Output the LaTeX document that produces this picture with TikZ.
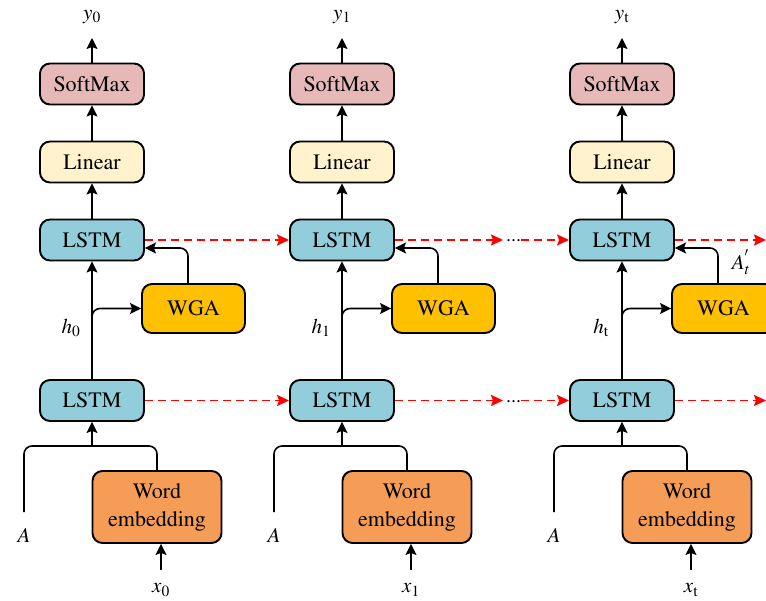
\documentclass[tikz,border=0pt]{standalone}
\usepackage[T1]{fontenc}
\usepackage{mathptmx}
\usetikzlibrary{arrows.meta}
\definecolor{smfill}{HTML}{E6B9B8}
\definecolor{linfill}{HTML}{FFF2CC}
\definecolor{lstmfill}{HTML}{92CDDC}
\definecolor{wgafill}{HTML}{FFC000}
\definecolor{wefill}{HTML}{F59D56}
\begin{document}
\begin{tikzpicture}[x=1pt,y=-1pt,
  box/.style={draw, line width=1.9pt, rounded corners=10pt, minimum width=104pt, minimum height=41pt, inner sep=0pt, font=\fontsize{22}{26}\selectfont},
  arr/.style={line width=1.6pt, -{Stealth[length=11pt,width=11pt,inset=2pt]}},
  ln/.style={line width=1.6pt},
  rarr/.style={red, line width=1.9pt, dash pattern=on 8pt off 5pt, -{Stealth[length=12pt,width=11pt,inset=2pt]}},
  lbl/.style={font=\fontsize{21}{24}\selectfont, inner sep=0pt},
  dotsnode/.style={font=\fontsize{20}{20}\selectfont, inner sep=0pt, anchor=base west}]
\useasboundingbox (0,0) rectangle (766,601);
\foreach \col/\cx/\s in {1/92/0,2/342/1,3/622/\mathrm{t}}{
  \node[box, fill=smfill] (sm\col) at (\cx,84) {SoftMax};
  \node[box, fill=linfill] (li\col) at (\cx,162) {Linear};
  \node[box, fill=lstmfill] (lu\col) at (\cx,240) {LSTM};
  \node[box, fill=wgafill, minimum width=103pt, minimum height=49pt] (wga\col) at (\cx+101.5,308.5) {WGA};
  \node[box, fill=lstmfill] (ld\col) at (\cx,400.5) {LSTM};
  \node[box, fill=wefill, minimum width=129pt, minimum height=72pt, align=center, font=\fontsize{22}{28}\selectfont] (we\col) at (\cx+65,507) {Word\\embedding};
  \node[lbl] (y\col) at (\cx,17) {$y_{\s}$};
  \node[lbl] (x\col) at (\cx+69,590) {$x_{\s}$};
  \node[lbl] (a\col) at (\cx-68,535) {$A$};
  \node[lbl] (h\col) at (\cx-21,328) {$h_{\s}$};
  \coordinate (ytip\col) at (\cx,38);
  \coordinate (hb\col) at (\cx,335);
  \coordinate (at\col) at (\cx-68,512);
  \coordinate (jn\col) at (\cx,446);
  \coordinate (xt\col) at (\cx+69,570);
  \draw[arr] (sm\col.north) -- (ytip\col);
  \draw[arr] (li\col.north) -- (sm\col.south);
  \draw[arr] (lu\col.north) -- (li\col.south);
  \draw[arr] (ld\col.north) -- (lu\col.south);
  \draw[arr, rounded corners=8pt] (hb\col) |- (wga\col.west);
  \draw[arr, rounded corners=8pt] ([xshift=-5.5pt]wga\col.north) |- ([yshift=-8pt]lu\col.east);
  \draw[ln, rounded corners=8pt] (at\col) |- (jn\col) -| (we\col.north);
  \draw[arr] (jn\col) -- (ld\col.south);
  \draw[arr] (xt\col) -- (xt\col |- we\col.south);
}
\node[lbl] (ap) at (741,262) {$A_t^{'}$};
% top row recurrent arrows
\coordinate (dt1) at (503,240);
\coordinate (e1) at (766,240);
\node[dotsnode] (d1) at (506,242) {...};
\draw[rarr] (lu1.east) -- (lu2.west);
\draw[rarr] (lu2.east) -- (dt1);
\draw[rarr] (d1.east |- lu3.west) -- (lu3.west);
\draw[rarr] (lu3.east) -- (e1);
% bottom row recurrent arrows
\coordinate (dt2) at (503,400.5);
\coordinate (e2) at (766,400.5);
\node[dotsnode] (d2) at (506,402.5) {...};
\draw[rarr] (ld1.east) -- (ld2.west);
\draw[rarr] (ld2.east) -- (dt2);
\draw[rarr] (d2.east |- ld3.west) -- (ld3.west);
\draw[rarr] (ld3.east) -- (e2);
\end{tikzpicture}
\end{document}
